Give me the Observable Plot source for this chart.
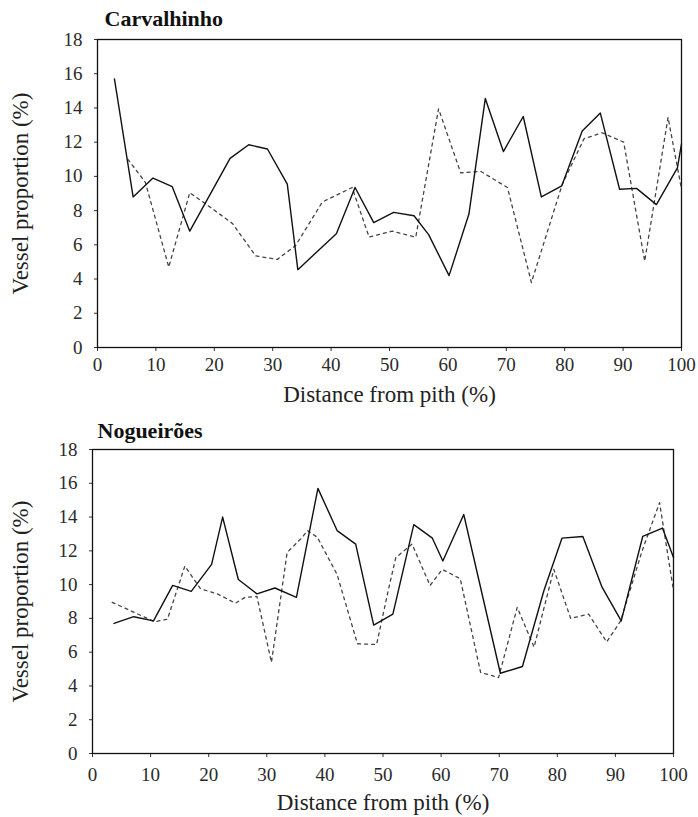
<!DOCTYPE html>
<html>
<head>
<meta charset="utf-8">
<script src="https://cdn.jsdelivr.net/npm/d3@7"></script>
<script src="https://cdn.jsdelivr.net/npm/@observablehq/plot@0.6"></script>
<style>
  html, body { margin: 0; padding: 0; background: #fff; }
  #wrap { width: 698px; height: 817px; overflow: hidden; }
  svg { display: block; }
</style>
</head>
<body>
<div id="wrap"></div>
<script>
// Tick labels
const xTicks = [0, 10, 20, 30, 40, 50, 60, 70, 80, 90, 100];
const yTicks = [0, 2, 4, 6, 8, 10, 12, 14, 16, 18];

// Carvalhinho – solid series
const carvSolidX = [2.9, 6.1, 9.5, 12.8, 15.8, 22.7, 25.9, 29.1, 32.5, 34.3, 40.9, 44.1, 47.3, 50.7, 54.2, 56.7, 60.2, 63.6, 66.4, 69.5, 72.9, 76.0, 79.5, 83.0, 86.1, 89.4, 92.3, 95.7, 99.3, 100];
const carvSolidY = [15.7, 8.8, 9.9, 9.4, 6.8, 11.05, 11.85, 11.6, 9.55, 4.55, 6.65, 9.35, 7.3, 7.9, 7.7, 6.6, 4.2, 7.8, 14.55, 11.45, 13.5, 8.8, 9.45, 12.65, 13.7, 9.25, 9.3, 8.35, 10.5, 11.9];

// Carvalhinho – dashed series
const carvDashX = [5.2, 8.2, 12.2, 15.8, 19.3, 23.1, 27.1, 30.8, 33.9, 38.5, 43.6, 46.5, 50.5, 54.5, 58.4, 62.2, 65.6, 70.2, 74.3, 79.6, 83.3, 86.4, 90.1, 93.7, 97.7, 100];
const carvDashY = [11.0, 9.65, 4.7, 9.05, 8.2, 7.25, 5.35, 5.15, 5.95, 8.5, 9.35, 6.45, 6.8, 6.45, 13.95, 10.2, 10.3, 9.35, 3.8, 9.55, 12.2, 12.55, 12.0, 5.05, 13.45, 9.25];

// Nogueirões – solid series
const nogSolidX = [3.7, 7.1, 10.5, 13.8, 17.0, 20.5, 22.4, 25.1, 28.3, 31.4, 35.1, 38.8, 42.1, 45.3, 48.4, 51.7, 55.3, 58.5, 60.3, 63.9, 70.2, 74.0, 77.7, 80.8, 84.4, 87.7, 91.0, 94.7, 98.1, 100];
const nogSolidY = [7.7, 8.1, 7.85, 9.95, 9.6, 11.2, 14.0, 10.3, 9.45, 9.8, 9.25, 15.7, 13.2, 12.4, 7.6, 8.25, 13.55, 12.75, 11.4, 14.15, 4.75, 5.15, 9.65, 12.75, 12.85, 9.85, 7.85, 12.85, 13.35, 11.6];

// Nogueirões – dashed series
const nogDashX = [3.4, 10.7, 12.9, 15.9, 18.6, 21.5, 24.6, 26.3, 28.3, 30.8, 33.5, 36.1, 37.0, 38.7, 42.1, 45.6, 48.9, 50.9, 52.2, 55.0, 58.1, 60.2, 63.3, 66.8, 69.9, 73.1, 76.0, 79.4, 82.3, 85.4, 88.5, 90.9, 94.6, 97.6, 100];
const nogDashY = [8.95, 7.8, 7.95, 11.1, 9.75, 9.45, 8.9, 9.25, 9.3, 5.4, 11.9, 12.8, 13.2, 12.8, 10.6, 6.5, 6.45, 9.65, 11.6, 12.4, 9.95, 10.9, 10.35, 4.8, 4.5, 8.65, 6.3, 10.9, 8.0, 8.25, 6.6, 7.85, 12.0, 14.85, 9.65];

const yLabel = "Vessel proportion (%)";
const xLabel = "Distance from pith (%)";

const serif = "'Liberation Serif', 'DejaVu Serif', serif";

function toRows(xs, ys) { return xs.map((x, i) => ({x, y: ys[i]})); }

function chart(cfg) {
  return Plot.plot({
    width: 698,
    height: cfg.height,
    marginTop: 39,
    marginBottom: cfg.marginBottom,
    marginLeft: cfg.marginLeft,
    marginRight: cfg.marginRight,
    x: {domain: [0, 100]},
    y: {domain: [0, 18]},
    style: {fontFamily: serif, fontSize: "19px", color: "#2a2a2a", background: "#fff", overflow: "visible"},
    marks: [
      Plot.axisX({ticks: xTicks, tickSize: 4, tickPadding: cfg.xPad, label: null, fontSize: 19, stroke: "#333"}),
      Plot.axisY({ticks: yTicks, tickSize: 3, tickPadding: 12, label: null, fontSize: 19, stroke: "#333"}),
      Plot.frame({stroke: "#111", strokeWidth: 1.3}),
      Plot.line(toRows(cfg.dashX, cfg.dashY), {x: "x", y: "y", stroke: "#444", strokeWidth: 1.3, strokeDasharray: "3,4"}),
      Plot.line(toRows(cfg.solidX, cfg.solidY), {x: "x", y: "y", stroke: "#111", strokeWidth: 1.4}),
      Plot.text([cfg.title], {text: d => d, frameAnchor: "top-left", dx: cfg.titleDx, dy: cfg.titleDy, textAnchor: "start", lineAnchor: "middle", fontWeight: "bold", fontSize: 22, fill: "#111", letterSpacing: "0.7px"}),
      Plot.text([yLabel], {text: d => d, frameAnchor: "left", dx: cfg.yLabelDx, rotate: -90, textAnchor: "middle", lineAnchor: "middle", fontSize: 23, fill: "#222"}),
      Plot.text([xLabel], {text: d => d, frameAnchor: "bottom", dy: cfg.xLabelDy, textAnchor: "middle", lineAnchor: "middle", fontSize: 23, fill: "#222", letterSpacing: "0.5px"})
    ]
  });
}

const wrap = document.getElementById("wrap");
wrap.appendChild(chart({
  title: "Carvalhinho", height: 410, marginBottom: 63, marginLeft: 97, marginRight: 17,
  solidX: carvSolidX, solidY: carvSolidY, dashX: carvDashX, dashY: carvDashY,
  xPad: 6, titleDx: 7, titleDy: -21, yLabelDx: -77, xLabelDy: 47
}));
wrap.appendChild(chart({
  title: "Nogueirões", height: 407, marginBottom: 64, marginLeft: 92, marginRight: 25,
  solidX: nogSolidX, solidY: nogSolidY, dashX: nogDashX, dashY: nogDashY,
  xPad: 10, titleDx: 5, titleDy: -19, yLabelDx: -72, xLabelDy: 49
}));
</script>
</body>
</html>
